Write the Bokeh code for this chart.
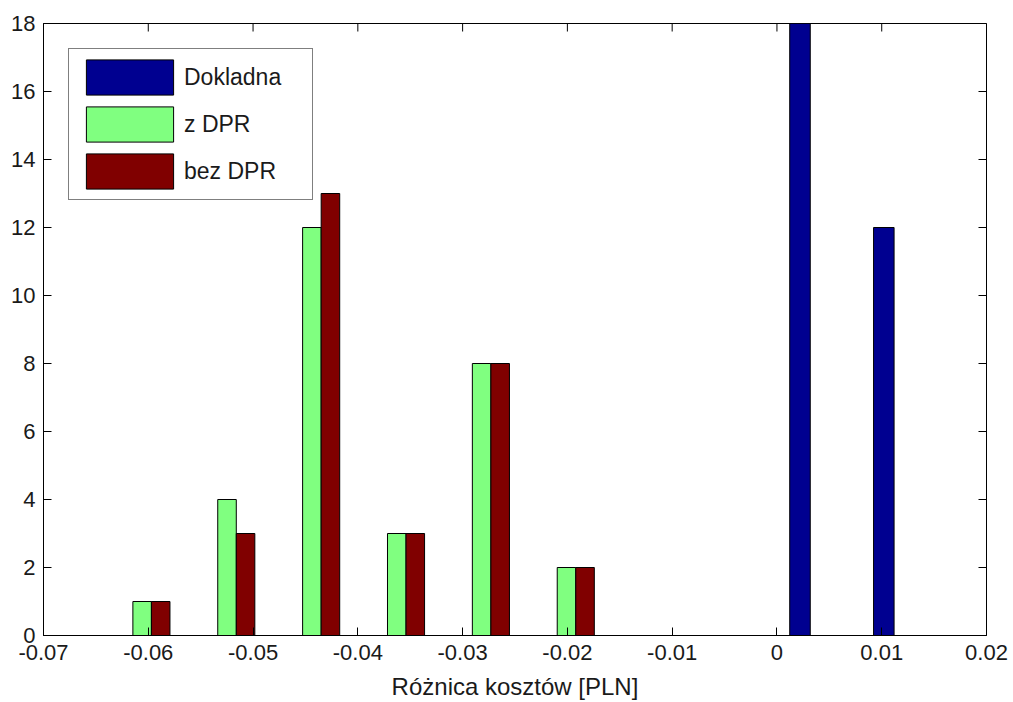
import math
from bokeh.plotting import figure
from bokeh.models import Range1d, FixedTicker, Legend, LegendItem
from bokeh.transform import dodge
from bokeh.embed import file_html
from bokeh.resources import INLINE

# ---- data ----
bin_centers = [-0.0597, -0.0516, -0.0435, -0.0354, -0.0273, -0.0192]
z_dpr = [1, 4, 12, 3, 8, 2]
bez_dpr = [1, 3, 13, 3, 8, 2]
dokladna_centers = [0.0022, 0.0102]
dokladna = [18, 12]

x_ticks = [-0.07, -0.06, -0.05, -0.04, -0.03, -0.02, -0.01, 0.0, 0.01, 0.02]
x_tick_labels = ["-0.07", "-0.06", "-0.05", "-0.04", "-0.03", "-0.02", "-0.01", "0", "0.01", "0.02"]
y_ticks = [0, 2, 4, 6, 8, 10, 12, 14, 16, 18]

series_names = ["Dokladna", "z DPR", "bez DPR"]
colors = ["#000090", "#80FF80", "#800000"]

FONT = "Liberation Sans"
TXT = "#1a1a1a"
bar_w = 0.00177
X0, X1, Y0, Y1 = -0.07, 0.02, 0, 18

p = figure(width=1013, height=702, output_backend="svg", toolbar_location=None,
           x_range=Range1d(X0, X1), y_range=Range1d(Y0, Y1),
           min_border_left=43, min_border_right=27, min_border_top=23, min_border_bottom=66,
           x_axis_label="Różnica kosztów [PLN]")
p.background_fill_color = "white"
p.border_fill_color = "white"
p.outline_line_color = "black"
p.outline_line_width = 1
p.grid.visible = False

src_g = dict(x=bin_centers, top=z_dpr)
src_r = dict(x=bin_centers, top=bez_dpr)
rb = p.vbar(x=dokladna_centers, top=dokladna, width=0.00196, fill_color=colors[0],
            line_color="black", line_width=1)
rg = p.vbar(x=dodge("x", -bar_w / 2), top="top", source=src_g, width=bar_w,
            fill_color=colors[1], line_color="black", line_width=1)
rr = p.vbar(x=dodge("x", bar_w / 2), top="top", source=src_r, width=bar_w,
            fill_color=colors[2], line_color="black", line_width=1)

# inward tick marks on the top and right frame edges (box on); half is clipped by the frame
p.scatter(x=x_ticks, y=[Y1] * len(x_ticks), marker="dash", size=16, angle=math.pi / 2,
          line_color="black", line_width=1)
p.scatter(x=[X1] * len(y_ticks), y=y_ticks, marker="dash", size=16,
          line_color="black", line_width=1)

def style_axis(ax):
    ax.major_tick_in = 8
    ax.major_tick_out = 0
    ax.minor_tick_line_color = None
    ax.axis_line_color = "black"
    ax.major_tick_line_color = "black"
    ax.major_label_text_font = FONT
    ax.major_label_text_font_size = "22px"
    ax.major_label_text_color = TXT
    ax.axis_label_text_font = FONT
    ax.axis_label_text_font_size = "24px"
    ax.axis_label_text_font_style = "normal"
    ax.axis_label_text_color = TXT

xa = p.xaxis[0]
xa.ticker = FixedTicker(ticks=x_ticks)
xa.major_label_overrides = {t: l for t, l in zip(x_ticks, x_tick_labels)}
style_axis(xa)
xa.major_label_standoff = 9
xa.axis_label_standoff = 10

ya = p.yaxis[0]
ya.ticker = FixedTicker(ticks=y_ticks)
style_axis(ya)
ya.major_label_standoff = 8

legend = Legend(items=[LegendItem(label=series_names[0], renderers=[rb]),
                       LegendItem(label=series_names[1], renderers=[rg]),
                       LegendItem(label=series_names[2], renderers=[rr])],
                location="top_left")
legend.glyph_width = 109
legend.glyph_height = 44
legend.spacing = 3
legend.padding = 6
legend.margin = 25
legend.label_standoff = 0
legend.label_width = 122
legend.label_text_font = FONT
legend.label_text_font_size = "23px"
legend.label_text_color = TXT
legend.border_line_color = "black"
legend.border_line_width = 1
legend.background_fill_alpha = 1
p.add_layout(legend)

open("out.html", "w").write(file_html(p, INLINE))
